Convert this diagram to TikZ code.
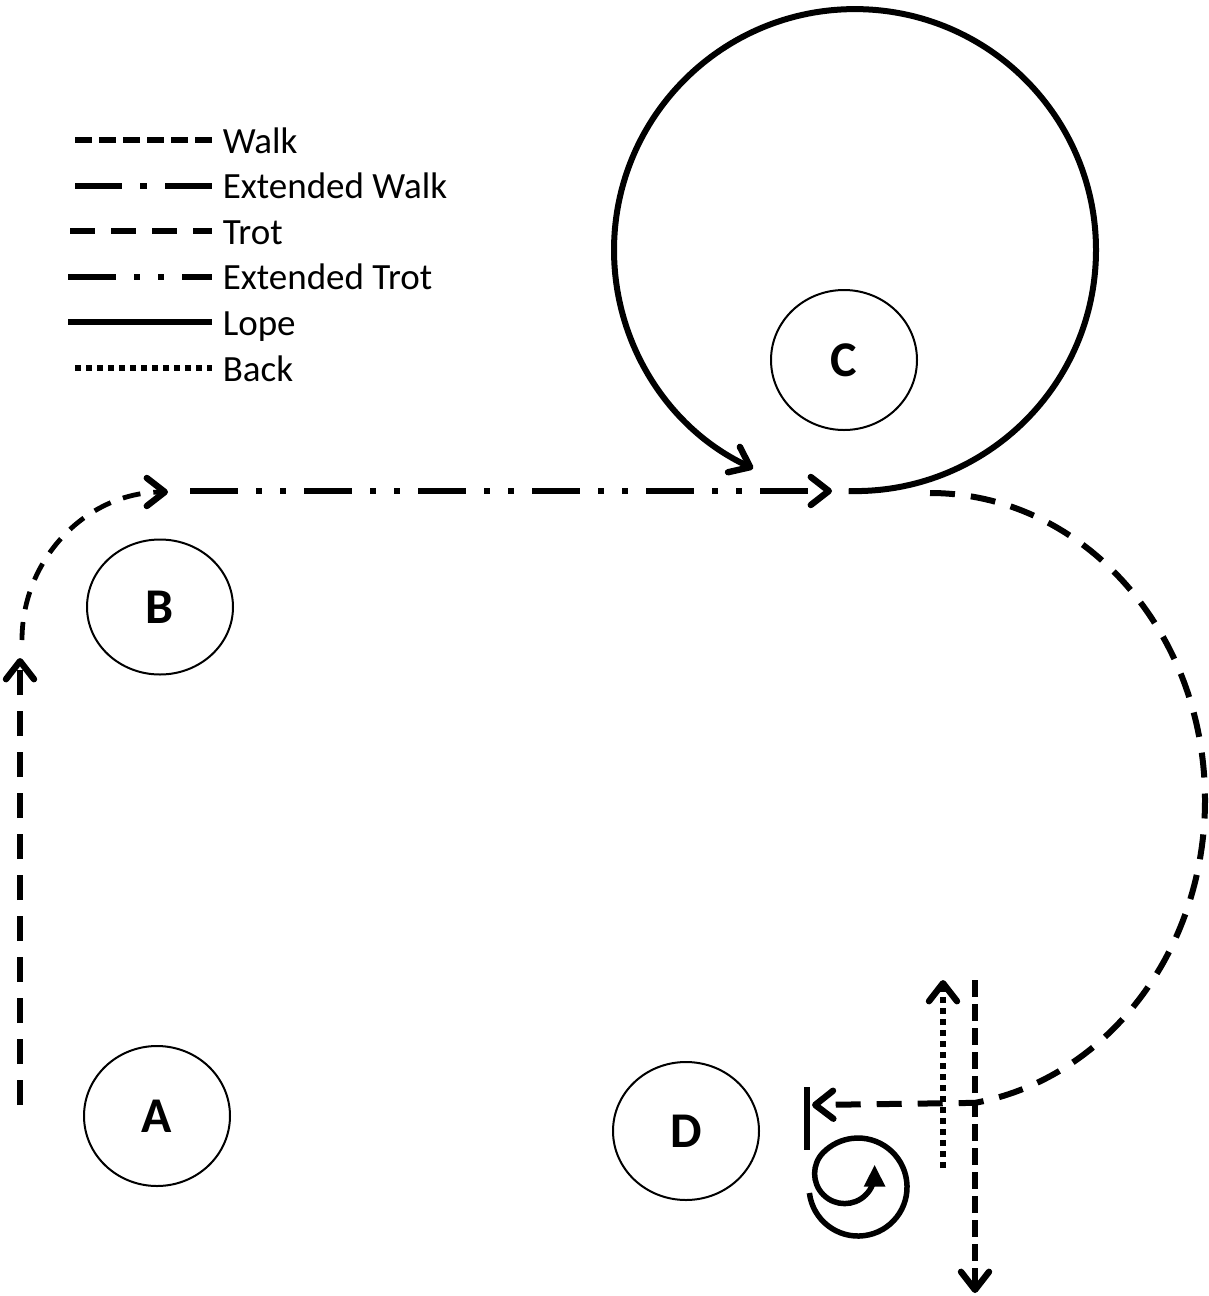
\documentclass[tikz,border=0pt]{standalone}
\usepackage{fontspec}
\setmainfont{Carlito}
\usetikzlibrary{arrows.meta,shapes.geometric}

\tikzset{every picture/.style={line width=0.75pt}}
\tikzset{
  chev/.tip={Straight Barb[length=9pt,width=14pt,line width=3.2pt,round]},
  gait/.style={line width=3pt},
  walk/.style={gait, dash pattern=on 8.5pt off 3.5pt},
  extwalk/.style={gait, dash pattern=on 23.5pt off 9pt on 3.5pt off 9pt},
  trot/.style={gait, dash pattern=on 12.5pt off 8pt},
  exttrot/.style={gait, dash pattern=on 24pt off 9pt on 3pt off 9pt on 3pt off 9pt},
  lope/.style={gait},
  back/.style={gait, dash pattern=on 3pt off 2.5pt},
  barrel/.style={draw, ellipse, line width=1pt, minimum width=73pt, minimum height=70pt, inner sep=0pt, font=\bfseries\fontsize{25}{30}\selectfont},
  keytext/.style={anchor=base west, inner sep=0pt, font=\fontsize{18.5}{22}\selectfont},
}

\begin{document}
\begin{tikzpicture}[x=0.5pt,y=0.5pt,yscale=-1,xscale=1]
\useasboundingbox (0,0) rectangle (1209,1296);

% Legend
\foreach \sty/\xa/\txt [count=\i from 0] in {walk/75/Walk, extwalk/75/Extended Walk, trot/70/Trot, exttrot/68/Extended Trot, lope/68/Lope, back/75/Back} {
  \draw[\sty] (\xa,{140+45.6*\i}) -- (212,{140+45.6*\i});
  \node[keytext] (key\i) at (222,{153+45.6*\i}) {\txt};
}

% Barrels
\node[barrel] (A) at (157,1116) {A};
\node[barrel, minimum height=67.5pt] (B) at (160,607) {B};
\node[barrel] (C) at (844,360) {C};
\node[barrel, minimum height=69pt] (D) at (686,1131) {D};

% Junction points
\coordinate (jC) at (848.7,491);
\coordinate (jD) at (975,1105);

%Straight Lines: trot up from A
\draw[trot, -{chev}] (20,1105) -- (20,658);
%Arc: trot round B
\draw[trot, line width=2.4pt, dash pattern=on 9pt off 6.5pt, -{chev}] (22,640) arc[start angle=180, end angle=270, x radius=146, y radius=148];
%Straight Lines: extended trot to C
\draw[exttrot, -{chev}] (190,491) -- (832,491);
%Circle: lope round C
\draw[lope, -{chev}] (jC) arc[start angle=91.5, end angle=-245, radius=241];
%Arc: trot down to D
\draw[trot, -{chev}] (930,493) arc[start angle=-90, end angle=80.6, x radius=275, y radius=307] -- (812,1105);
%Straight Lines: stop bar
\draw[line width=2.75pt] (807,1087) -- (807,1150);
%Spiral: spin
\draw[line width=2.75pt, -{Triangle[length=11pt,width=10pt]}] (809.4,1193) arc[start angle=173, end angle=-135, radius=49] arc[start angle=-135, end angle=-360, radius=30] -- ++(0,-9);
%Straight Lines: back up
\draw[back, -{chev}] (943,1168) -- (943,980);
%Straight Lines: walk down
\draw[walk, -{chev}] (975,980) -- (975,1293);

\end{tikzpicture}
\end{document}
